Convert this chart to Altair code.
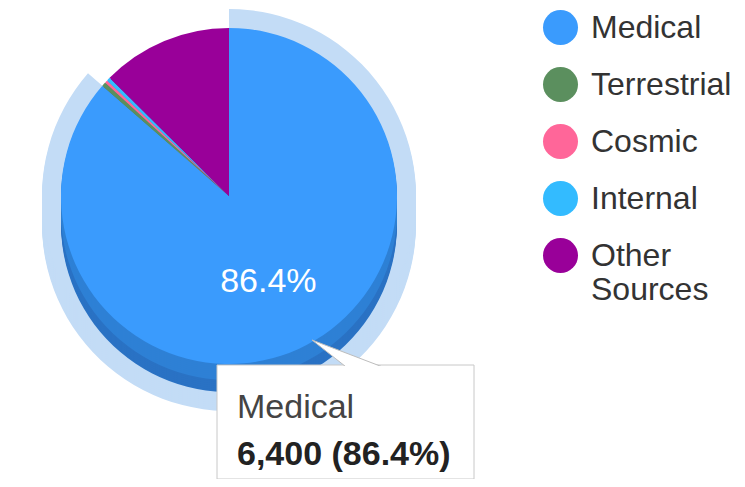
import altair as alt
import pandas as pd

# ---- data ----
names = ["Medical", "Terrestrial", "Cosmic", "Internal", "Other Sources"]
values = [6400, 30, 20, 25, 932]
top_colors = ["#3a9bfd", "#5b8f5e", "#ff6699", "#33bbff", "#990099"]
side_colors = ["#2e80d5", "#4c7a50", "#d9577f", "#2b9fd9", "#800080"]
base_colors = ["#2a72c4", "#446e48", "#c24e73", "#268ec2", "#700070"]
ring_colors = ["#c3dcf6", "transparent", "transparent", "transparent", "transparent"]

FONT = "Liberation Sans"

df = pd.DataFrame({
    "name": names,
    "value": values,
    "order": list(range(len(names))),
    "side": side_colors,
    "base": base_colors,
    "ring": ring_colors,
})

CX, CY = 221, 188       # pie centre (chart coordinates)
R = 168                  # pie radius
DEPTH = 28               # 3-D thickness
RING = 19                # highlight ring width

theta = alt.Theta("value:Q", stack=True)
order = alt.Order("order:Q")


def pie(dy, radius, field):
    return alt.Chart(df).mark_arc(outerRadius=radius).encode(
        theta=theta,
        order=order,
        color=alt.Color(f"{field}:N", scale=None),
        x=alt.value(CX),
        y=alt.value(CY + dy),
    )


layers = []
# highlight ring behind the hovered slice
for d in range(DEPTH, -1, -2):
    layers.append(pie(d, R + RING, "ring"))
# pie side (thickness)
for d in range(DEPTH, 0, -2):
    layers.append(pie(d, R, "base" if d > DEPTH * 0.6 else "side"))

# top face with legend
top = alt.Chart(df).mark_arc(outerRadius=R).encode(
    theta=theta,
    order=order,
    color=alt.Color(
        "name:N",
        scale=alt.Scale(domain=names, range=top_colors),
        sort=names,
        legend=alt.Legend(
            title=None,
            orient="none",
            legendX=535,
            legendY=2,
            padding=0,
            symbolType="circle",
            symbolSize=1225,
            symbolStrokeWidth=0,
            labelFontSize=32,
            labelFont=FONT,
            labelColor="#333333",
            labelOffset=13,
            labelLimit=300,
            rowPadding=22,
            labelExpr="datum.label == 'Other Sources' ? ['Other', 'Sources'] : datum.label",
        ),
    ),
    x=alt.value(CX),
    y=alt.value(CY),
)
layers.append(top)

# slice label
label = alt.Chart(df).transform_joinaggregate(
    total="sum(value)"
).transform_calculate(
    lab="datum.name == 'Medical' ? format(datum.value / datum.total, '.1%') : ''"
).mark_text(
    radius=95, fontSize=34, font=FONT, color="white", align="center", baseline="middle"
).encode(
    theta=theta, order=order, text="lab:N", x=alt.value(CX), y=alt.value(CY)
)
layers.append(label)

# tooltip box
tip_base = alt.Chart(df).transform_joinaggregate(
    total="sum(value)"
).transform_filter("datum.name == 'Medical'")

box = tip_base.mark_rect(fill="white", stroke="#c8c8c8", strokeWidth=1).encode(
    x=alt.value(209), x2=alt.value(466), y=alt.value(357), y2=alt.value(471)
)
pointer = tip_base.mark_point(
    shape="M -1 -0.382 L -0.034 0.382 L 1 0.382 Z",
    size=7921, filled=True, fill="white", stroke="#bdbdbd", strokeWidth=1, opacity=1,
).encode(x=alt.value(348.5), y=alt.value(349))
cover = tip_base.mark_rect(fill="white").encode(
    x=alt.value(210), x2=alt.value(465), y=alt.value(358), y2=alt.value(370)
)
tip_name = tip_base.mark_text(
    fontSize=34, font=FONT, color="#444444", align="left", baseline="alphabetic"
).encode(text="name:N", x=alt.value(229), y=alt.value(410))
tip_val = tip_base.transform_calculate(
    t="format(datum.value, ',') + ' (' + format(datum.value / datum.total, '.1%') + ')'"
).mark_text(
    fontSize=34, font=FONT, fontWeight="bold", color="#222222", align="left", baseline="alphabetic"
).encode(text="t:N", x=alt.value(229), y=alt.value(457))

layers += [box, pointer, cover, tip_name, tip_val]

chart = alt.layer(*layers).properties(
    width=729, height=471, padding=0, autosize="none", background="white"
).configure_view(stroke=None)

chart.save("out.html", embed_options={"renderer": "svg", "actions": False})
